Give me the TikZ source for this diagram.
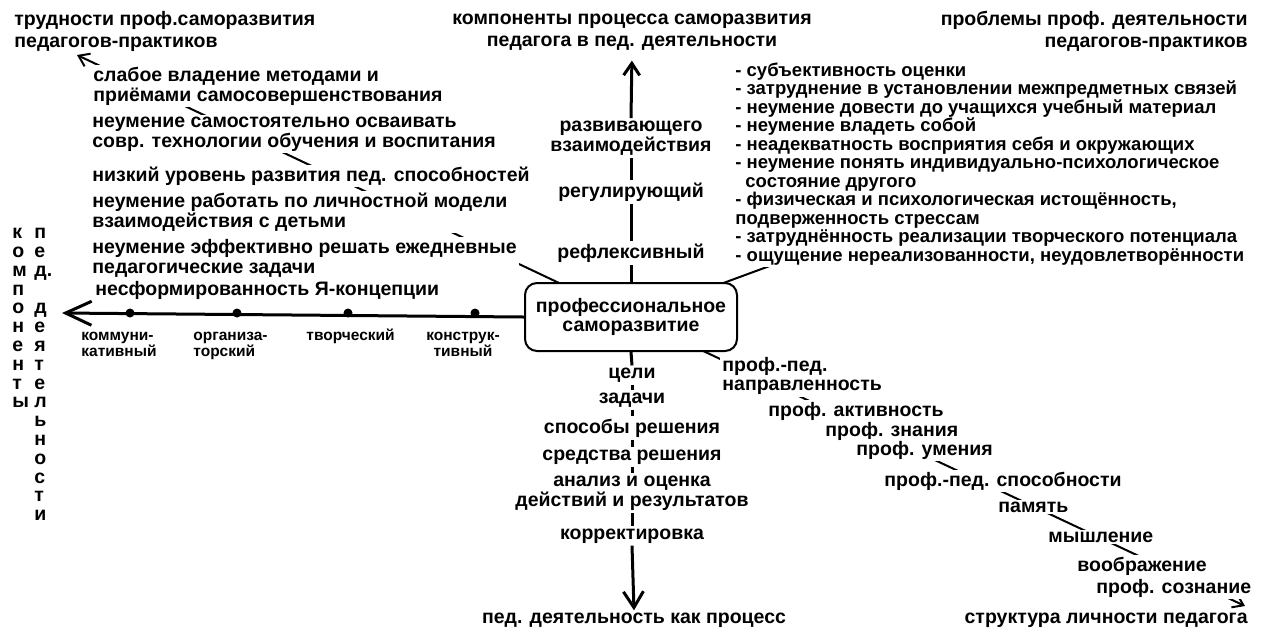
\documentclass[tikz,border=0pt]{standalone}
\usepackage{fontspec}
\setmainfont{Liberation Sans}
\usetikzlibrary{arrows.meta,backgrounds}

\tikzset{
  lbl/.style={font=\bfseries\fontsize{9.75pt}{10pt}\selectfont, inner sep=1pt},
  ttl/.style={lbl, font=\bfseries\fontsize{9.75pt}{11pt}\selectfont},
  two/.style={lbl, font=\bfseries\fontsize{9.75pt}{9pt}\selectfont},
  item/.style={lbl, fill=white, align=left, anchor=west},
  sm/.style={font=\bfseries\fontsize{7.75pt}{8pt}\selectfont, inner sep=1pt, align=left},
  col/.style={font=\bfseries\fontsize{9.75pt}{9.4pt}\selectfont, inner sep=1pt, align=left, anchor=north west},
  axis/.style={line width=1.5pt},
  diag/.style={line width=1pt},
  dot/.style={circle, fill, inner sep=0pt, minimum size=4.5pt},
}

\begin{document}
\begin{tikzpicture}[x=0.5pt,y=-0.5pt]
\useasboundingbox (0,0) rectangle (1261,628);

\node[lbl, draw, line width=1pt, rounded corners=6pt, fill=white, align=center,
  minimum width=106pt, minimum height=34pt,
  font=\bfseries\fontsize{9.75pt}{9.5pt}\selectfont] (box) at (631,317) {профессиональное\\саморазвитие};

\node[ttl, align=left, anchor=west] (tL) at (12,31) {трудности проф.саморазвития\\педагогов-практиков};
\node[ttl, align=center] (tC) at (632,32) {компоненты процесса саморазвития\\педагога в пед. деятельности};
\node[ttl, align=right, anchor=east] (tR) at (1250,31) {проблемы проф. деятельности\\педагогов-практиков};
\node[lbl] (tB) at (634,620) {пед. деятельность как процесс};
\node[lbl, anchor=east] (tS) at (1250,620) {структура личности педагога};

\node[two, align=center] (uRaz) at (631,138) {развивающего\\взаимодействия};
\node[lbl] (uReg) at (631,192) {регулирующий};
\node[lbl] (uRef) at (631,253) {рефлексивный};
\draw[axis] (box.north) -- (uRef.south);
\draw[axis] (uRef.north) -- (uReg.south);
\draw[axis] (uReg.north) -- (uRaz.south);
\draw[axis, -{Straight Barb[length=6pt,width=8pt]}, shorten >=4pt] (uRaz.north) -- (tC.south);

\node[lbl] (dCel) at (632,375) {цели};
\node[lbl] (dZad) at (632,400) {задачи};
\node[lbl] (dSpo) at (632,428) {способы решения};
\node[lbl] (dSre) at (632,457) {средства решения};
\node[two, align=center] (dAna) at (632,493) {анализ и оценка\\действий и результатов};
\node[lbl] (dKor) at (632,536) {корректировка};
\draw[axis] (box.south) -- (dCel.north);
\draw[axis] (dCel.south) -- (dZad.north);
\draw[axis] (dZad.south) -- (dSpo.north);
\draw[axis] (dSpo.south) -- (dSre.north);
\draw[axis] (dSre.south) -- (dAna.north);
\draw[axis] (dAna.south) -- (dKor.north);
\draw[axis, -{Straight Barb[length=8pt,width=10pt]}] (dKor.south) -- (tB.north);

\node[col] (kK) at (10,226) {к\\о\\м\\п\\о\\н\\е\\н\\т\\ы};
\node[col] (kD) at (32,226) {п\\е\\д.\\\mbox{}\\д\\е\\я\\т\\е\\л\\ь\\н\\о\\с\\т\\и};
\coordinate (kTip) at (62,313);
\draw[axis, -{Straight Barb[length=13pt,width=12pt]}] (box.west) -- (kTip);
\node[dot] (k1) at (130,313) {};
\node[dot] (k2) at (237,313) {};
\node[dot] (k3) at (348,313) {};
\node[dot] (k4) at (475,313) {};
\node[sm, anchor=north west] (kl1) at (79,330) {коммуни-\\кативный};
\node[sm, anchor=north west] (kl2) at (191,330) {организа-\\торский};
\node[sm, anchor=west] (kl3) at (304,336) {творческий};
\node[sm, anchor=north, align=center] (kl4) at (463,330) {конструк-\\тивный};

\node[item] (l1) at (91,86) {слабое владение методами и\\приёмами самосовершенствования};
\node[item] (l2) at (90,134) {неумение самостоятельно осваивать\\совр. технологии обучения и воспитания};
\node[item] (l3) at (90,176) {низкий уровень развития пед. способностей};
\node[item] (l4) at (90,212) {неумение работать по личностной модели\\взаимодействия с детьми};
\node[item] (l5) at (90,258) {неумение эффективно решать ежедневные\\педагогические задачи};
\node[item] (l6) at (93,290) {несформированность Я-концепции};

\node[item, font=\bfseries\fontsize{9.25pt}{9.25pt}\selectfont] (rb) at (733,164) {- субъективность оценки\\
- затруднение в установлении межпредметных связей\\
- неумение довести до учащихся учебный материал\\
- неумение владеть собой\\
- неадекватность восприятия себя и окружающих\\
- неумение понять индивидуально-психологическое\\
\hspace*{5pt}состояние другого\\
- физическая и психологическая истощённость,\\
подверженность стрессам\\
- затруднённость реализации творческого потенциала\\
- ощущение нереализованности, неудовлетворённости};

\node[item, font=\bfseries\fontsize{9.75pt}{9.5pt}\selectfont] (pNap) at (720,376) {проф.-пед.\\направленность};
\node[item] (pAkt) at (766,411) {проф. активность};
\node[item] (pZna) at (823,431) {проф. знания};
\node[item] (pUme) at (854,450) {проф. умения};
\node[item] (pSpo) at (882,481) {проф.-пед. способности};
\node[item] (pPam) at (996,507) {память};
\node[item] (pMys) at (1046,537) {мышление};
\node[item] (pVoo) at (1075,566) {воображение};
\node[item] (pSoz) at (1094,588) {проф. сознание};

\coordinate (tLa) at (77,55);
\coordinate (rbP) at (900,218);
\coordinate (tSa) at (1245,606);
\begin{scope}[on background layer]
\draw[diag, -{Straight Barb[length=5pt,width=7pt]}] (box.center) -- (tLa);
\draw[diag] (box.center) -- (rbP);
\draw[diag, -{Straight Barb[length=5pt,width=7pt]}] (box.center) -- (tSa);
\end{scope}
\end{tikzpicture}
\end{document}
